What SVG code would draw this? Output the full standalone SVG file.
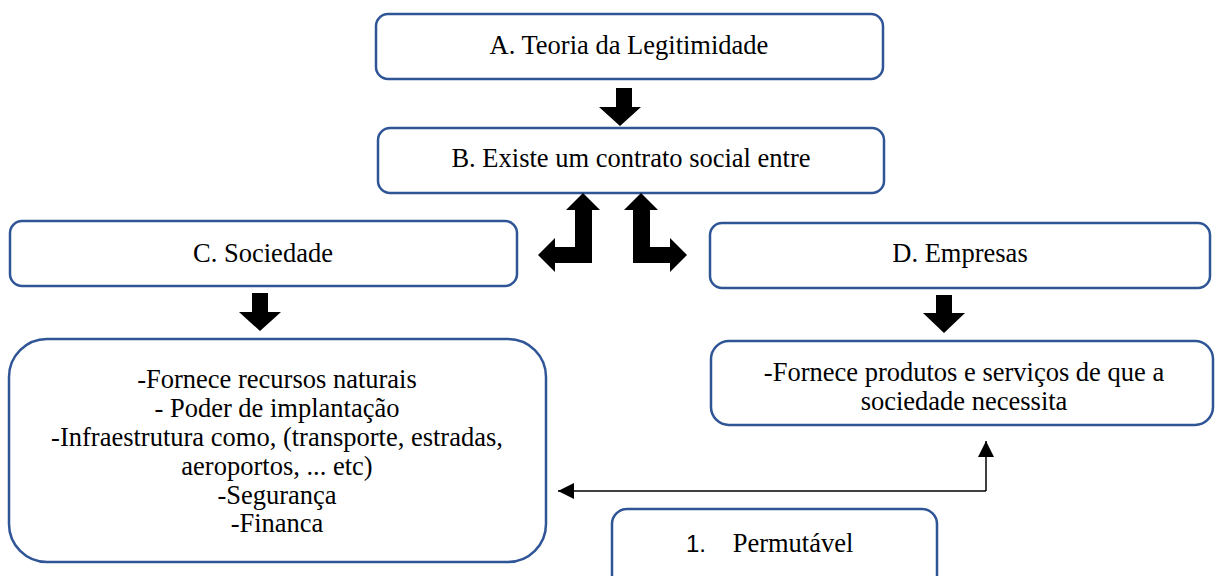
<svg xmlns="http://www.w3.org/2000/svg" width="1217" height="576" viewBox="0 0 1217 576">
<style>
.box{fill:#fff;stroke:#2F5597;stroke-width:2.5}
.t{font-family:'Liberation Serif','Tinos','Times New Roman','DejaVu Serif',serif;font-size:26.5px;fill:#000;text-anchor:middle}
.blk{fill:#000}
.ln{fill:none;stroke:#000;stroke-width:1.5}
</style>
<defs>
<marker id="ah2" viewBox="0 0 16 16" refX="16" refY="8" markerWidth="16" markerHeight="16" markerUnits="userSpaceOnUse" orient="auto">
<path d="M0,0 L16,8 L0,16 Z" fill="#000"/>
</marker>
</defs>
<rect width="1217" height="576" fill="#fff"/>
<g id="nodeA">
<rect class="box" x="376" y="14" width="507" height="65" rx="12"/>
<text class="t" x="629" y="54">A. Teoria da Legitimidade</text>
</g>
<g id="nodeB">
<rect class="box" x="378" y="128" width="506" height="65" rx="12"/>
<text class="t" x="631" y="167">B. Existe um contrato social entre</text>
</g>
<g id="nodeC">
<rect class="box" x="10" y="221" width="507" height="65" rx="12"/>
<text class="t" x="263" y="262">C. Sociedade</text>
</g>
<g id="nodeD">
<rect class="box" x="710" y="223" width="500" height="65" rx="12"/>
<text class="t" x="960" y="262">D. Empresas</text>
</g>
<g id="nodeCList">
<rect class="box" x="9" y="339" width="537" height="223" rx="38"/>
<text class="t" x="277" y="388">-Fornece recursos naturais</text>
<text class="t" x="277" y="417">- Poder de implantação</text>
<text class="t" x="277" y="446">-Infraestrutura como, (transporte, estradas,</text>
<text class="t" x="277" y="475">aeroportos, ... etc)</text>
<text class="t" x="277" y="504">-Segurança</text>
<text class="t" x="277" y="532">-Financa</text>
</g>
<g id="nodeDList">
<rect class="box" x="711" y="341" width="502" height="84" rx="18"/>
<text class="t" x="964" y="381">-Fornece produtos e serviços de que a</text>
<text class="t" x="964" y="410">sociedade necessita</text>
</g>
<g id="nodePerm">
<rect class="box" x="612" y="509" width="325" height="85" rx="15"/>
<text x="686" y="552" font-family="'Liberation Sans', Arial, sans-serif" font-size="24" fill="#000">1.</text>
<text class="t" x="793" y="552">Permutável</text>
</g>
<g id="connectors">
<path class="blk" d="M616,88 L632,88 L632,107 L641,107 L620,126 L599,107 L616,107 Z"/>
<path class="blk" d="M252,293 L268,293 L268,312 L281,312 L260,331 L239,312 L252,312 Z"/>
<path class="blk" d="M936,295 L952,295 L952,313 L965,313 L944,333 L923,313 L936,313 Z"/>
<path class="blk" d="M583,193 L600,210 L592,210 L592,263 L555,263 L555,272 L538,255 L555,238 L555,247 L575,247 L575,210 L566,210 Z"/>
<path class="blk" d="M641,193 L658,210 L650,210 L650,247 L670,247 L670,238 L687,255 L670,272 L670,263 L633,263 L633,210 L624,210 Z"/>
<path class="ln" d="M986,491 L986,441" marker-end="url(#ah2)"/>
<path class="ln" d="M986,491 L558,491" marker-end="url(#ah2)"/>
</g>
</svg>
